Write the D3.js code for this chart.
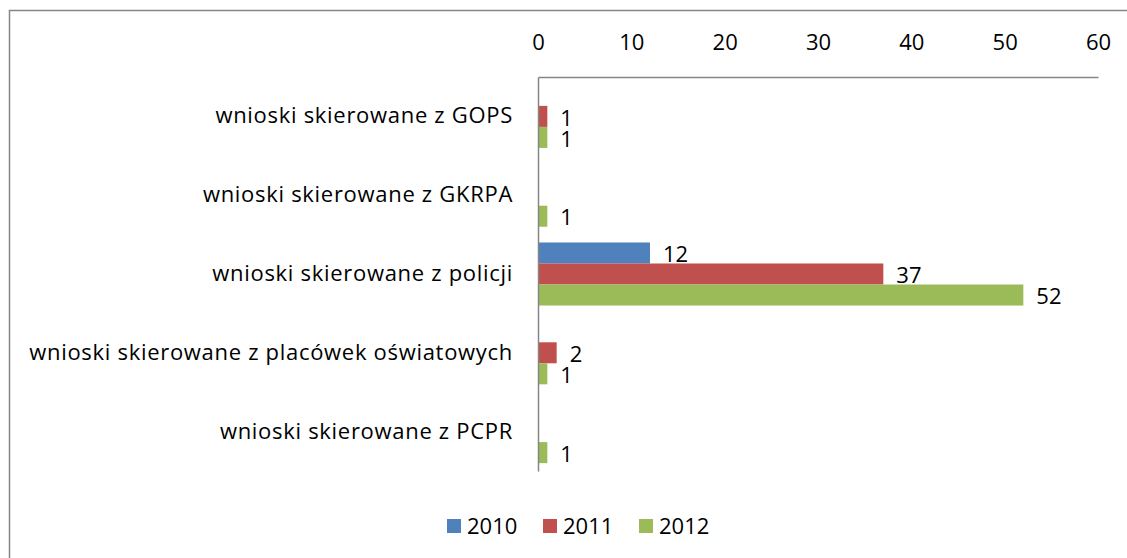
<!DOCTYPE html>
<html>
<head>
<meta charset="utf-8">
<script src="https://cdn.jsdelivr.net/npm/d3@7"></script>
<style>
  body { margin: 0; background: #fff; }
  svg text { font-family: "Open Sans", "Liberation Sans", Arial, sans-serif; fill: #000; }
</style>
</head>
<body>
<svg class="chart" width="1127" height="558"></svg>
<script>
// data
var categories = [
  "wnioski skierowane z GOPS",
  "wnioski skierowane z GKRPA",
  "wnioski skierowane z policji",
  "wnioski skierowane z placówek oświatowych",
  "wnioski skierowane z PCPR"
];
var years = ["2010", "2011", "2012"];
var values2010 = [null, null, 12, null, null];
var values2011 = [1, null, 37, 2, null];
var values2012 = [1, 1, 52, 1, 1];
var xTicks = [0, 10, 20, 30, 40, 50, 60];
var colors = ["#4F81BD", "#C0504D", "#9BBB59"];

var series = [values2010, values2011, values2012];

var svg = d3.select(".chart"),
    width = +svg.attr("width"),
    height = +svg.attr("height"),
    plot = {left: 538, right: 1098, top: 77, bottom: 471},
    fontSize = 22;

// outer frame (only left and top edges fall inside the picture)
svg.append("rect")
    .attr("x", 9.5).attr("y", 10.5)
    .attr("width", width + 20).attr("height", height + 20)
    .attr("fill", "#fff")
    .attr("stroke", "#868686")
    .attr("stroke-width", 1.5);

var x = d3.scaleLinear()
    .domain([0, 60])
    .range([plot.left, plot.right]);

var y = d3.scaleBand()
    .domain(categories)
    .range([plot.top, plot.bottom])
    .paddingInner(0.2)
    .paddingOuter(0.1);

var ySub = d3.scaleBand()
    .domain(years)
    .range([0, y.bandwidth()]);

var z = d3.scaleOrdinal().domain(years).range(colors);

// rows of data
var rows = [];
categories.forEach(function(c, i) {
  years.forEach(function(yr, j) {
    if (series[j][i] != null) rows.push({cat: c, year: yr, value: series[j][i]});
  });
});

// bars
svg.append("g")
  .selectAll("rect")
  .data(rows)
  .enter().append("rect")
    .attr("x", x(0))
    .attr("y", function(d) { return y(d.cat) + ySub(d.year); })
    .attr("width", function(d) { return x(d.value) - x(0); })
    .attr("height", ySub.bandwidth())
    .attr("fill", function(d) { return z(d.year); });

// value labels
svg.append("g")
  .selectAll("text")
  .data(rows)
  .enter().append("text")
    .attr("x", function(d) { return x(d.value) + 13; })
    .attr("y", function(d) { return y(d.cat) + ySub(d.year) + ySub.bandwidth() / 2 + 1.5; })
    .attr("dy", "0.35em")
    .attr("font-size", fontSize)
    .text(function(d) { return d.value; });

// top axis
var xAxis = svg.append("g")
    .attr("transform", "translate(0," + plot.top + ")")
    .call(d3.axisTop(x).tickValues(xTicks).tickSize(0).tickSizeOuter(0).tickPadding(27));
xAxis.select(".domain").attr("stroke", "#868686").attr("stroke-width", 1.5);
xAxis.selectAll("text").attr("font-size", fontSize).attr("font-family", null);

// left axis
var yAxis = svg.append("g")
    .attr("transform", "translate(" + plot.left + ",0)")
    .call(d3.axisLeft(y).tickSize(0).tickSizeOuter(0).tickPadding(25));
yAxis.select(".domain").attr("stroke", "#868686").attr("stroke-width", 1.5);
yAxis.selectAll("text")
    .attr("font-size", fontSize)
    .attr("font-family", null)
    .attr("letter-spacing", 0.7);

// legend
var legendX = [447, 543, 639];
var legend = svg.append("g")
    .selectAll("g")
    .data(years)
    .enter().append("g")
      .attr("transform", function(d, i) { return "translate(" + legendX[i] + ",519)"; });

legend.append("rect")
    .attr("width", 14)
    .attr("height", 14)
    .attr("fill", z);

legend.append("text")
    .attr("x", 20)
    .attr("y", 7)
    .attr("dy", "0.35em")
    .attr("font-size", fontSize)
    .text(function(d) { return d; });
</script>
</body>
</html>
